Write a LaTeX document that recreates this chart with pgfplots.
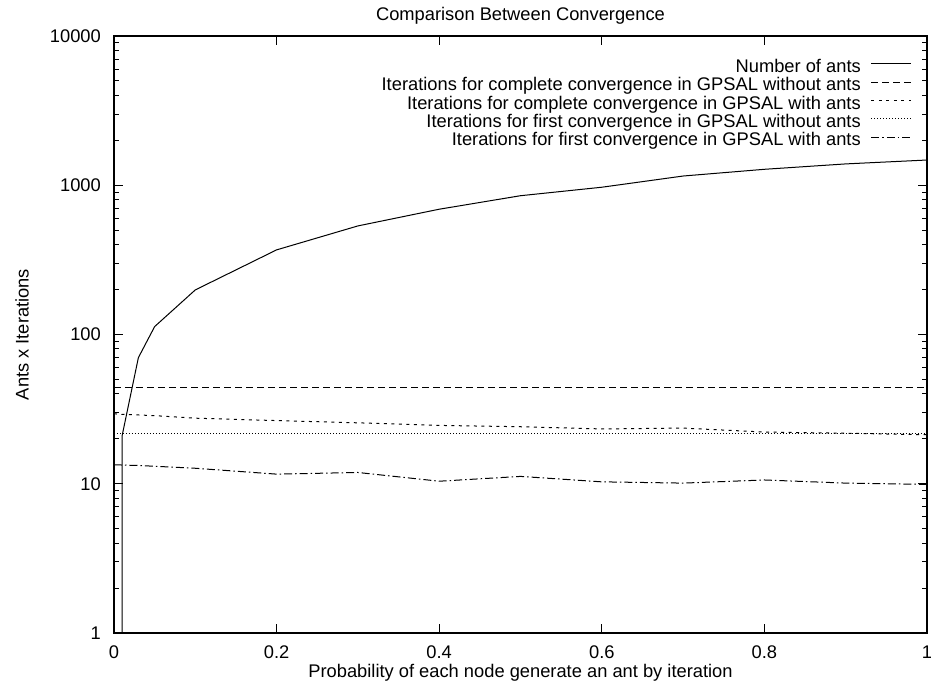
\documentclass[border=0pt]{standalone}
\usepackage{fontspec}
\setmainfont{Liberation Sans}
\usepackage{pgfplots}
\pgfplotsset{compat=1.18}
\newcommand{\gfont}{\fontsize{18.3}{22}\selectfont}
\begin{document}
\begin{tikzpicture}
\path[use as bounding box] (-114pt,-53pt) rectangle (817pt,633pt);
\begin{axis}[
  at={(0,0)},anchor=south west,
  scale only axis,width=813pt,height=597pt,
  xmin=0,xmax=1,ymode=log,ymin=1,ymax=10000,
  xtick={0,0.2,0.4,0.6,0.8,1},xticklabels={0,0.2,0.4,0.6,0.8,1},
  ytick={1,10,100,1000,10000},yticklabels={1,10,100,1000,10000},
  minor x tick num=0,
  tick align=inside,tick pos=both,
  major tick length=9pt,minor tick length=5pt,
  axis line style={line width=1.4pt},
  every tick/.style={black,line width=1pt},
  tick label style={font=\gfont,inner sep=0pt},
  xticklabel style={anchor=north,yshift=-13pt},
  yticklabel style={anchor=east,xshift=-13pt},
  title={Comparison Between Convergence},
  title style={font=\gfont,inner sep=0pt,at={(axis description cs:0.5,1)},anchor=base,yshift=10pt},
  xlabel={Probability of each node generate an ant by iteration},
  xlabel style={font=\gfont,inner sep=0pt,at={(axis description cs:0.5,-0.0737)},anchor=base},
  ylabel={Ants x Iterations},
  ylabel style={font=\gfont,inner sep=0pt,at={(axis description cs:-0.1132,0.5)},anchor=center},
  legend plot pos=right,legend cell align=right,
  legend image code/.code={\draw[#1] (0pt,4.5pt) -- (40pt,4.5pt);},
  legend style={at={(0.9815,0.9615)},anchor=north east,draw=none,fill=none,
    inner sep=0pt,font=\gfont,row sep=0pt,column sep=10pt,
    nodes={inner sep=0pt,text height=13.3pt,text depth=5pt}},
  cycle list={{black,solid}},
  every axis plot/.append style={line width=1pt,no marks,black},
]
\addplot[black,solid] coordinates {(0.01,0.5) (0.01,21) (0.03,70) (0.05,113) (0.1,199) (0.2,369)
  (0.3,534) (0.4,691) (0.5,851) (0.6,970) (0.7,1153) (0.8,1279) (0.9,1390) (1,1476)};
\addlegendentry{Number of ants}
\addplot[black,dash pattern=on 7pt off 4pt] coordinates {(0,44) (1,44)};
\addlegendentry{Iterations for complete convergence in GPSAL without ants}
\addplot[black,dash pattern=on 3pt off 4.5pt] coordinates {(0,29.4) (0.01,29.2) (0.03,28.9)
  (0.05,28.6) (0.1,27.5) (0.2,26.5) (0.3,25.6) (0.4,24.6) (0.5,24.1) (0.6,23.3)
  (0.7,23.6) (0.8,22.2) (0.9,21.8) (1,21.3)};
\addlegendentry{Iterations for complete convergence in GPSAL with ants}
\addplot[black,dash pattern=on 1pt off 2pt] coordinates {(0,21.6) (1,21.6)};
\addlegendentry{Iterations for first convergence in GPSAL without ants}
\addplot[black,dash pattern=on 8pt off 3pt on 1.5pt off 3pt] coordinates {(0,13.4)
  (0.01,13.35) (0.03,13.25) (0.05,13.1) (0.1,12.7) (0.2,11.6) (0.3,11.9) (0.4,10.4)
  (0.5,11.2) (0.6,10.3) (0.7,10.1) (0.8,10.6) (0.9,10.1) (1,9.9)};
\addlegendentry{Iterations for first convergence in GPSAL with ants}
\end{axis}
\end{tikzpicture}
\end{document}
